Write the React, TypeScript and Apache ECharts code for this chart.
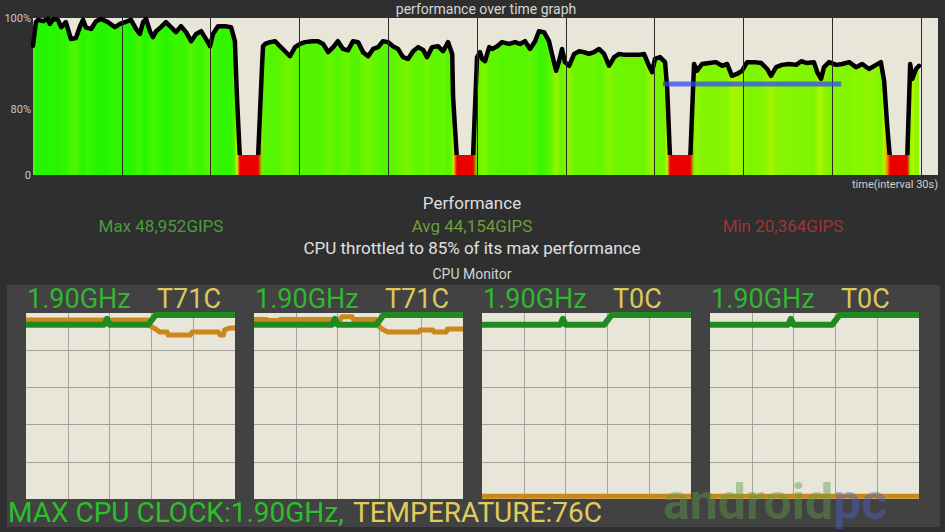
import { useEffect, useRef } from 'react';
import * as echarts from 'echarts';

// ---------- performance over time (seconds, % of max performance) ----------
const perfTime = [
  0, 1.0, 1.7, 3.4, 5.1, 5.7, 6.8, 8.4, 9.5, 11.1, 12.8, 14.5, 15.9, 16.9, 17.9, 19.6, 21.3, 23.0, 25.3, 27.7,
  29.4, 31.1, 33.1, 34.8, 36.1, 37.2, 38.2, 39.5, 40.5, 41.6, 43.2, 44.9, 46.6, 48.3, 50.0, 51.7, 53.4, 55.1,
  56.8, 58.4, 59.8, 60.8, 62.5, 64.9, 66.9, 68.2, 68.9, 69.9, 76.0, 77.4, 77.7, 78.4, 80.1, 81.8, 83.4, 85.1,
  86.8, 88.5, 90.2, 91.9, 94.3, 96.3, 98.0, 99.7, 101.4, 103.0, 104.7, 106.4, 108.1, 109.8, 111.5, 113.2,
  114.9, 116.6, 118.2, 119.9, 121.6, 123.3, 125.0, 126.7, 128.4, 130.1, 131.8, 133.1, 134.8, 136.8, 138.5,
  140.2, 141.6, 141.9, 143.2, 148.6, 150.0, 151.0, 151.7, 152.7, 154.1, 155.1, 156.8, 158.4, 160.8, 162.8,
  164.5, 166.2, 167.9, 169.6, 170.9, 172.6, 174.3, 175.3, 176.7, 177.7, 178.7, 179.7, 181.1, 182.8, 184.5,
  186.1, 187.8, 189.5, 191.2, 192.9, 194.6, 196.3, 198.0, 200.0, 202.4, 204.7, 206.4, 208.1, 209.1, 210.1,
  211.8, 213.5, 214.2, 215.2, 222.0, 223.3, 224.3, 226.0, 228.4, 230.7, 232.8, 234.5, 236.1, 237.8, 239.5,
  241.2, 243.6, 246.0, 248.0, 249.3, 251.0, 253.0, 255.4, 257.8, 259.5, 261.5, 263.8, 264.9, 266.2, 267.2,
  268.9, 271.3, 273.3, 275.7, 278.0, 280.1, 282.4, 284.8, 286.4, 287.5, 288.5, 289.5, 295.3, 296.3, 297.0,
  298.3, 299.3,
];
const perfValue = [
  93.9, 99.1, 99.6, 99.3, 99.8, 98.7, 99.8, 99.6, 98.0, 99.1, 95.4, 95.6, 98.2, 99.6, 97.9, 97.6, 99.3, 99.8, 99.1, 98.0,
  98.7, 99.1, 99.6, 97.6, 96.5, 99.1, 99.8, 97.1, 95.8, 97.1, 98.0, 99.1, 98.0, 96.9, 98.2, 96.9, 94.9, 96.5,
  97.1, 95.4, 93.8, 96.5, 98.2, 98.2, 98.0, 94.9, 82.6, 69.0, 69.0, 89.9, 93.8, 94.3, 94.7, 94.9, 93.8, 92.7,
  91.6, 93.6, 94.3, 94.7, 94.9, 94.9, 94.3, 92.5, 93.6, 94.9, 93.2, 92.9, 94.9, 94.7, 92.5, 91.6,
  93.2, 93.6, 94.9, 94.7, 93.8, 93.2, 91.4, 91.0, 92.7, 93.6, 93.0, 91.4, 93.6, 93.8, 92.7,
  94.7, 92.1, 82.6, 69.0, 69.0, 91.4, 92.5, 91.0, 90.5, 93.6, 93.2, 93.8, 94.7, 94.3, 94.7,
  94.3, 94.9, 93.2, 94.9, 97.1, 96.9, 94.9, 92.1, 88.4, 90.5, 93.2, 90.3, 89.5, 92.1, 92.7,
  92.5, 92.1, 92.5, 93.2, 92.1, 89.5, 91.4, 92.1, 91.9, 91.9, 91.9, 92.1, 89.5, 88.1, 91.0,
  91.4, 90.3, 84.8, 69.0, 69.0, 89.9, 88.4, 89.9, 90.1, 90.3, 89.5, 89.9, 87.3, 87.7, 88.4,
  90.3, 90.3, 90.1, 88.8, 87.3, 89.2, 89.7, 89.9, 89.7, 90.5, 90.1, 90.3, 88.1, 86.6, 89.2,
  90.3, 89.7, 89.9, 90.3, 89.2, 89.9, 88.8, 89.7, 90.3, 86.2, 76.7, 69.0, 69.0, 89.9, 86.6,
  88.8, 89.5,
];
const perfXMax = 305.7;
const perfXInterval = 30;
const perfYMin = 65.5;
const perfYMax = 100;
const perfYTickValues = [65.5, 80, 100];
const perfYTickLabels = ['0', '80%', '100%'];
const perfGridValues = [80];
const throttleSpan = [212.8, 273.0];
const throttleLevel = 85.5;

const titleText = 'performance over time graph';
const timeAxisText = 'time(interval 30s)';
const statLabels = ['Max 48,952GIPS', 'Avg 44,154GIPS', 'Min 20,364GIPS'];
const throttleText = 'CPU throttled to 85% of its max performance';

// ---------- CPU monitor (sample position 0..100) ----------
const coreFreqTime = [0, 37.5, 38.7, 40, 58.5, 62, 100];
const coreFreqGHz = [1.80, 1.80, 1.86, 1.80, 1.80, 1.90, 1.90];
const core0TempTime = [0, 58.5, 59.5, 62, 64, 67.6, 68, 78.6, 79.5, 92, 93, 94.5, 95, 97.5, 100];
const core0TempC = [74.1, 74.1, 71.5, 70.3, 69.0, 69.0, 67.7, 67.7, 69.0, 69.0, 67.7, 67.7, 69.9, 70.7, 70.7];
const core1TempTime = [0, 6, 6.5, 12, 12.5, 41.5, 42, 47, 47.5, 58.5, 60, 62, 64, 79, 79.5, 85.5, 86, 92, 92.5, 100];
const core1TempC = [74.3, 74.3, 73.8, 73.8, 74.3, 74.3, 75.4, 75.4, 74.3, 74.3, 71.1, 69.9, 69.0, 69.0, 69.9, 69.9, 69.0, 69.0, 70.3, 70.3];
const core2TempTime = [0, 100];
const core2TempC = [0, 0];
const core3TempTime = [0, 100];
const core3TempC = [0, 0];
const coreTempTimes = [core0TempTime, core1TempTime, core2TempTime, core3TempTime];
const coreTemps = [core0TempC, core1TempC, core2TempC, core3TempC];
const coreFreqLabels = ['1.90GHz', '1.90GHz', '1.90GHz', '1.90GHz'];
const coreTempLabels = ['T71C', 'T71C', 'T0C', 'T0C'];
const freqAxisMax = 1.92;
const tempAxisMin = -1.2;
const tempAxisMax = 77;
const maxClockText = 'MAX CPU CLOCK:1.90GHz,';
const maxTempText = 'TEMPERATURE:76C';

function hslToHex(h: number, s: number, l: number): string {
  const a = s * Math.min(l, 1 - l);
  const f = (n: number) => {
    const k = (n + h / 30) % 12;
    const c = l - a * Math.max(-1, Math.min(k - 3, 9 - k, 1));
    return Math.round(255 * c).toString(16).padStart(2, '0');
  };
  return '#' + f(0) + f(8) + f(4);
}

function perfColor(v: number): string {
  let h: number;
  if (v <= 70) h = 0;
  else if (v <= 80) h = ((v - 70) / 10) * 55;
  else if (v <= 90) h = 55 + ((v - 80) / 10) * 33;
  else h = Math.min(112, 88 + ((v - 90) / 10) * 24);
  return hslToHex(h, 1, h < 30 ? 0.46 : 0.48);
}

function perfGradient() {
  const tEnd = perfTime[perfTime.length - 1];
  return new echarts.graphic.LinearGradient(
    0, 0, 1, 0,
    perfTime.map((t, i) => ({ offset: t / tEnd, color: perfColor(perfValue[i]) }))
  );
}

export default function App() {
  const ref = useRef<HTMLDivElement>(null);

  useEffect(() => {
    if (!ref.current) return;
    const chart = echarts.init(ref.current, undefined, { renderer: 'svg' });
    const font = 'Roboto';
    const miniLefts = [26, 254, 482, 710];

    const grids: any[] = [
      { left: 33, top: 18, width: 905, height: 157, show: true, backgroundColor: '#e8e6d9', borderWidth: 0 },
      { left: 33, top: 155, width: 905, height: 20, show: false },
    ];
    const xAxes: any[] = [
      {
        gridIndex: 0, type: 'value', min: 0, max: perfXMax, interval: perfXInterval, z: 4,
        axisLine: { show: false }, axisTick: { show: false }, axisLabel: { show: false },
        splitLine: { show: true, showMinLine: false, showMaxLine: false, lineStyle: { color: '#2a2a2a', width: 1 } },
      },
      { gridIndex: 1, type: 'value', min: 0, max: perfXMax, show: false },
    ];
    const yAxes: any[] = [
      {
        gridIndex: 0, type: 'value', min: perfYMin, max: perfYMax, z: 4,
        axisLine: { show: false },
        axisTick: { show: false, customValues: perfGridValues },
        axisLabel: {
          customValues: perfYTickValues, color: '#c8c8c8', fontSize: 11, margin: 2, fontFamily: font,
          formatter: (v: number) => perfYTickLabels[perfYTickValues.indexOf(v)] ?? '',
        },
        splitLine: { show: true, showMinLine: false, showMaxLine: false, lineStyle: { color: '#2a2a2a', width: 1 } },
      },
      { gridIndex: 1, type: 'value', min: 0, max: 1, show: false },
    ];
    const series: any[] = [
      {
        type: 'line', xAxisIndex: 0, yAxisIndex: 0, z: 1, showSymbol: false, silent: true,
        data: perfTime.map((t, i) => [t, perfValue[i]]),
        lineStyle: { opacity: 0, width: 0 },
        areaStyle: { color: perfGradient(), opacity: 1 },
      },
      {
        type: 'line', xAxisIndex: 0, yAxisIndex: 0, z: 2, showSymbol: false, silent: true,
        data: perfTime.map((t, i) => [t, perfValue[i]]),
        lineStyle: { color: '#000000', width: 4.5, join: 'round', cap: 'round' },
      },
      {
        type: 'line', xAxisIndex: 1, yAxisIndex: 1, z: 3, showSymbol: false, silent: true,
        data: perfTime.map((t) => [t, 1]),
        lineStyle: { opacity: 0, width: 0 },
        areaStyle: { color: perfGradient(), opacity: 1 },
      },
      {
        type: 'line', xAxisIndex: 0, yAxisIndex: 0, z: 6, showSymbol: false, silent: true,
        data: throttleSpan.map((t) => [t, throttleLevel]),
        lineStyle: { color: 'rgba(52,74,240,0.75)', width: 5 },
      },
    ];

    const txt = (x: number, y: number, text: string, fill: string, size: number, align = 'center') => ({
      type: 'text', x, y, silent: true,
      style: { text, fill, fontSize: size, fontFamily: font, align, textAlign: align, verticalAlign: 'middle', textVerticalAlign: 'middle' },
    });

    const graphics: any[] = [
      { type: 'rect', z: -10, shape: { x: 7, y: 285, width: 933, height: 242 }, style: { fill: '#424242' }, silent: true },
      txt(486, 9, titleText, '#d6d6d6', 14),
      txt(938, 184, timeAxisText, '#cfcfcf', 11, 'right'),
      txt(472, 203, 'Performance', '#dedede', 17),
      txt(161, 226, statLabels[0], '#4c9a3e', 17),
      txt(472, 226, statLabels[1], '#6c9e3c', 17),
      txt(783, 226, statLabels[2], '#9c3636', 17),
      txt(472, 248, throttleText, '#e0e0e0', 17),
      txt(472, 274, 'CPU Monitor', '#d2d2d2', 14),
      txt(8, 512, maxClockText, '#2cbf2c', 28, 'left'),
      txt(353, 512, maxTempText, '#e0cc5c', 28, 'left'),
      {
        type: 'text', x: 663, y: 502, z: 50, silent: true, style: {
          text: '{a|android}{b|pc}', fontFamily: font, fontSize: 50, fontWeight: 'bold',
          verticalAlign: 'middle', textVerticalAlign: 'middle', opacity: 0.45,
          rich: {
            a: { fill: '#5f9a48', color: '#5f9a48', fontSize: 50, fontWeight: 'bold', fontFamily: font },
            b: { fill: '#4a62c8', color: '#4a62c8', fontSize: 50, fontWeight: 'bold', fontFamily: font },
          },
        },
      },
    ];

    miniLefts.forEach((left, k) => {
      const gi = grids.length;
      grids.push({ left, top: 313, width: 209, height: 186, show: true, backgroundColor: '#e8e6d9', borderWidth: 0 });
      const xi = xAxes.length;
      xAxes.push({
        gridIndex: gi, type: 'value', min: 0, max: 100, interval: 20,
        axisLine: { show: false }, axisTick: { show: false }, axisLabel: { show: false },
        splitLine: { show: true, showMinLine: false, showMaxLine: false, lineStyle: { color: '#a3a29a', width: 1 } },
      });
      const fi = yAxes.length;
      yAxes.push({
        gridIndex: gi, type: 'value', min: 0, max: freqAxisMax, interval: freqAxisMax / 5,
        axisLine: { show: false }, axisTick: { show: false }, axisLabel: { show: false },
        splitLine: { show: true, showMinLine: false, showMaxLine: false, lineStyle: { color: '#a3a29a', width: 1 } },
      });
      const ti = yAxes.length;
      yAxes.push({ gridIndex: gi, type: 'value', min: tempAxisMin, max: tempAxisMax, show: false, splitLine: { show: false } });
      series.push({
        type: 'line', xAxisIndex: xi, yAxisIndex: ti, z: 2, showSymbol: false, silent: true,
        data: coreTempTimes[k].map((t, i) => [t, coreTemps[k][i]]),
        lineStyle: { color: '#c8891a', width: 5, join: 'round' },
      });
      series.push({
        type: 'line', xAxisIndex: xi, yAxisIndex: fi, z: 3, showSymbol: false, silent: true,
        data: coreFreqTime.map((t, i) => [t, coreFreqGHz[i]]),
        lineStyle: { color: '#1f8a1f', width: 6, join: 'round' },
      });
      graphics.push(txt(left + 1, 299, coreFreqLabels[k], '#33b433', 27, 'left'));
      graphics.push(txt(left + 131, 299, coreTempLabels[k], '#dac85c', 27, 'left'));
    });

    chart.setOption({
      animation: false,
      backgroundColor: '#2f2f2f',
      textStyle: { fontFamily: font },
      grid: grids,
      xAxis: xAxes,
      yAxis: yAxes,
      series,
      graphic: graphics,
    });
    return () => chart.dispose();
  }, []);

  return <div ref={ref} style={{ position: 'absolute', left: 0, top: 0, width: 945, height: 532 }} />;
}
